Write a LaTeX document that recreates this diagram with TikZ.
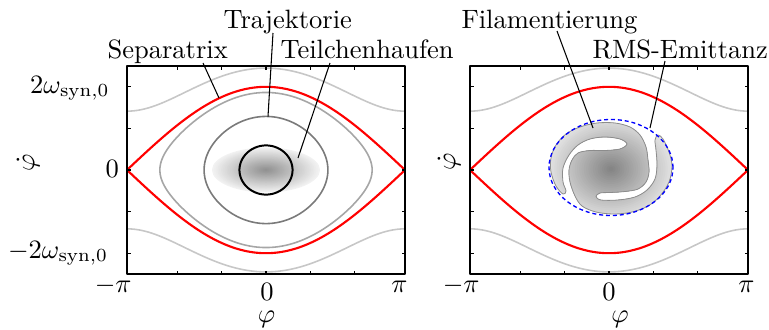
\documentclass[tikz,border=0pt]{standalone}
\usepackage{amsmath}
\begin{document}
\begin{tikzpicture}[x=0.377pt,y=-0.377pt,line join=round,
  frameline/.style={line width=0.75pt},
  tickline/.style={line width=0.4pt},
  sepline/.style={red,line width=0.8pt},
  outerline/.style={black!22,line width=0.6pt},
  pointer/.style={line width=0.4pt},
  lab/.style={inner sep=0pt,anchor=base west},
  ticklab/.style={inner sep=0pt,anchor=base east}]
\useasboundingbox (0,0) rectangle (769,329);

% ---------- left particle bunch (gradient) ----------
\foreach \i in {0,...,29}{
  \pgfmathsetmacro\f{1-\i/30}
  \pgfmathsetmacro\c{5+38*\i/29}
  \fill[black!\c] (266,170) ellipse [x radius={\f*54*0.377pt}, y radius={\f*22.5*0.377pt}];
}

% ---------- outer rotating trajectories and separatrices ----------
\foreach \cx in {266,609}{
  \draw[outerline] plot[domain=-pi:pi,samples=80,smooth] ({\cx+44.245*\x},{170-41.6*sqrt(4+2*cos(deg(\x)))});
  \draw[outerline] plot[domain=-pi:pi,samples=80,smooth] ({\cx+44.245*\x},{170+41.6*sqrt(4+2*cos(deg(\x)))});
  \draw[sepline] plot[domain=-pi:pi,samples=80,smooth] ({\cx+44.245*\x},{170-83.2*cos(deg(\x)/2)});
  \draw[sepline] plot[domain=-pi:pi,samples=80,smooth] ({\cx+44.245*\x},{170+83.2*cos(deg(\x)/2)});
}

% ---------- librating trajectories (left) ----------
\foreach \k/\col in {0.932/black!35,0.644/black!52}{
  \draw[\col,line width=0.6pt] plot[domain=0:360,samples=140,smooth cycle] ({266+44.245*rad(2*asin(\k*sin(\x)))},{170-83.2*\k*cos(\x)});
}
\draw[black,line width=0.75pt] plot[domain=0:360,samples=100,smooth cycle] ({266+44.245*rad(2*asin(0.2955*sin(\x)))},{170-83.2*0.2955*cos(\x)});

% ---------- filamented bunch (right) ----------
\draw[black!45,line width=0.3pt,
  path picture={
    \foreach \i in {0,...,29}{
      \pgfmathsetmacro\f{1-\i/30}
      \pgfmathsetmacro\c{8+40*\i/29}
      \fill[black!\c] (611,169) ellipse [x radius={\f*68*0.377pt}, y radius={\f*56*0.377pt}];
    }
  }]
  plot[smooth cycle,tension=0.55] coordinates {
  (563,194) (556,186) (551,172) (551,158) (556,145) (566,134) (580,127) (597,123)
  (615,123) (630,127) (640,135) (646,147) (648,160) (649,172) (646,182) (638,189)
  (625,191.5) (610,192.5) (600,193) (596,196.5) (601,200) (618,200) (635,197)
  (647,190) (655,179) (657,165) (656,150) (655,140) (658,135) (663,139) (669,152)
  (672,166) (669,182) (660,196) (648,206) (632,212) (614,214) (596,212) (582,206)
  (575,196) (570,182) (569,170) (572,160) (578,153) (590,150.5) (605,150.5)
  (620,149) (627,144) (620,139) (605,137) (590,139) (578,145) (569,155) (563,168)
  (563,182) (566,191)};

% RMS emittance ellipse
\draw[blue,line width=0.5pt,dash pattern=on 1.5pt off 1.1pt] (611,167.5) ellipse [x radius={62*0.377pt}, y radius={48*0.377pt}];

% ---------- frames and ticks ----------
\foreach \xl in {127,470}{
  \foreach \p in {-2,-1,0,1,2}{
    \draw[tickline] ({\xl+139+44.245*\p},66) -- ++(0,3.5);
    \draw[tickline] ({\xl+139+44.245*\p},274) -- ++(0,-3.5);
    \draw[tickline] (\xl,{170-41.6*\p}) -- ++(3.5,0);
    \draw[tickline] ({\xl+278},{170-41.6*\p}) -- ++(-3.5,0);
  }
  \draw[frameline] (\xl,66) rectangle ++(278,208);
}

% ---------- axis labels ----------
\node[ticklab] (y2) at (110,93) {$2\omega_{\mathrm{syn},0}$};
\node[ticklab] (y0) at (119.5,177.5) {$0$};
\node[ticklab] (ym2) at (108.5,258) {$-2\omega_{\mathrm{syn},0}$};
\node[rotate=90,inner sep=0pt] (ydotL) at (28,162.5) {$\dot\varphi$};
\node[rotate=90,inner sep=0pt] (ydotR) at (449,161.5) {$\dot\varphi$};

\node[ticklab] (xmpiL) at (132,292) {$-\pi$};
\node[inner sep=0pt,anchor=base] (x0L) at (267,300) {$0$};
\node[ticklab] (xpiL) at (408,292) {$\pi$};
\node[inner sep=0pt,anchor=base] (phiL) at (266.5,322.5) {$\varphi$};

\node[ticklab] (xmpiR) at (480,292) {$-\pi$};
\node[inner sep=0pt,anchor=base] (x0R) at (609,300) {$0$};
\node[ticklab] (xpiR) at (755,292) {$\pi$};
\node[inner sep=0pt,anchor=base] (phiR) at (620,322.5) {$\varphi$};

% ---------- annotation labels ----------
\node[lab] (lSep) at (107,58) {Separatrix};
\node[lab] (lTraj) at (223,28) {Trajektorie};
\node[lab] (lTeil) at (280,58) {Teilchenhaufen};
\node[lab] (lFil) at (461,28) {Filamentierung};
\node[lab] (lRMS) at (592,58) {RMS-Emittanz};

\coordinate (sepA) at (203,63);   \coordinate (sepB) at (219,98);
\coordinate (trajA) at (273,33);  \coordinate (trajB) at (268,116.5);
\coordinate (teilA) at (330,63);  \coordinate (teilB) at (298,158);
\coordinate (filA) at (557,31);   \coordinate (filB) at (593,128);
\coordinate (rmsA) at (665,61);   \coordinate (rmsB) at (650,128);

\draw[pointer] (sepA) -- (sepB);
\draw[pointer] (trajA) -- (trajB);
\draw[pointer] (teilA) -- (teilB);
\draw[pointer] (filA) -- (filB);
\draw[pointer] (rmsA) -- (rmsB);
\end{tikzpicture}
\end{document}
